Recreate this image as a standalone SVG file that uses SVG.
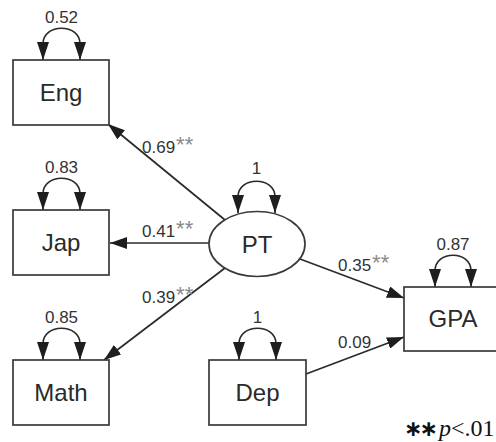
<svg xmlns="http://www.w3.org/2000/svg" width="496" height="442" viewBox="0 0 496 442">
  <defs>
    <marker id="arrow" viewBox="0 0 18 12" refX="18" refY="6" markerWidth="18" markerHeight="12" markerUnits="userSpaceOnUse" orient="auto-start-reverse">
      <path d="M0,0 L18,6 L0,12 z" fill="#1e1e1e"/>
    </marker>
    <marker id="arrow-s" viewBox="0 0 17 12" refX="17" refY="6" markerWidth="17" markerHeight="12" markerUnits="userSpaceOnUse" orient="auto">
      <path d="M0,0 L17,6 L0,12 z" fill="#1e1e1e"/>
    </marker>
  </defs>
  <style>
    .box { fill: #fff; stroke: #3a3a3a; stroke-width: 1.7; }
    .node-label { font-family: "Liberation Sans", Arial, sans-serif; font-size: 24px; fill: #2a2a2a; text-anchor: middle; }
    .coef { font-family: "Liberation Sans", Arial, sans-serif; font-size: 17px; fill: #333; }
    .coef-mid { text-anchor: middle; }
    .sig { font-size: 22px; fill: #8a8a8a; }
    .edge { fill: none; stroke: #2a2a2a; stroke-width: 1.7; marker-end: url(#arrow-s); }
    .loop { fill: none; stroke: #2a2a2a; stroke-width: 1.7; marker-start: url(#arrow); marker-end: url(#arrow); }
    .note { font-family: "Liberation Serif", "Times New Roman", serif; font-size: 24px; fill: #111; }
    .note-star { font-family: "DejaVu Sans", sans-serif; font-weight: bold; font-size: 22px; letter-spacing: -3px; }
  </style>

  <rect width="496" height="442" fill="#fff"/>

  <!-- paths between variables -->
  <g id="connectors">
    <line class="edge" x1="225" y1="220" x2="108" y2="124"/>
    <line class="edge" x1="209" y1="243" x2="110" y2="243"/>
    <line class="edge" x1="225" y1="268" x2="104" y2="360"/>
    <line class="edge" x1="300" y1="259" x2="404" y2="298"/>
    <line class="edge" x1="306" y1="374" x2="404" y2="337"/>

    <!-- variance loops -->
    <path class="loop" d="M43,60 L43,44 C43,23 80,23 80,44 L80,60"/>
    <path class="loop" d="M43,210 L43,194 C43,173 80,173 80,194 L80,210"/>
    <path class="loop" d="M43,360 L43,344 C43,323 80,323 80,344 L80,360"/>
    <path class="loop" d="M239,360 L239,344 C239,323 276,323 276,344 L276,360"/>
    <path class="loop" d="M238,213 L238,197 C238,176 275,176 275,197 L275,213"/>
    <path class="loop" d="M435,287 L435,271 C435,250 471,250 471,271 L471,287"/>

    <!-- path coefficients -->
    <text class="coef" x="142" y="153">0.69<tspan class="sig" dx="1" dy="-1">**</tspan></text>
    <text class="coef" x="142" y="237">0.41<tspan class="sig" dx="1" dy="-1">**</tspan></text>
    <text class="coef" x="142" y="303">0.39<tspan class="sig" dx="1" dy="-1">**</tspan></text>
    <text class="coef" x="338" y="271">0.35<tspan class="sig" dx="1" dy="-1">**</tspan></text>
    <text class="coef" x="338" y="348">0.09</text>

    <!-- variances -->
    <text class="coef coef-mid" x="61.5" y="23">0.52</text>
    <text class="coef coef-mid" x="61.5" y="173">0.83</text>
    <text class="coef coef-mid" x="61.5" y="323">0.85</text>
    <text class="coef coef-mid" x="257.5" y="323">1</text>
    <text class="coef coef-mid" x="256.5" y="174">1</text>
    <text class="coef coef-mid" x="453" y="250">0.87</text>
  </g>

  <g id="node-eng">
    <rect class="box" x="13" y="60" width="96" height="65"/>
    <text class="node-label" x="61" y="101">Eng</text>
  </g>
  <g id="node-jap">
    <rect class="box" x="13" y="210" width="96" height="65"/>
    <text class="node-label" x="61" y="251">Jap</text>
  </g>
  <g id="node-math">
    <rect class="box" x="13" y="360" width="96" height="65"/>
    <text class="node-label" x="61" y="401">Math</text>
  </g>
  <g id="node-pt">
    <ellipse class="box" cx="257" cy="244" rx="48" ry="32.5"/>
    <text class="node-label" x="257" y="252.5">PT</text>
  </g>
  <g id="node-dep">
    <rect class="box" x="209" y="360" width="97" height="65"/>
    <text class="node-label" x="257.5" y="401">Dep</text>
  </g>
  <g id="node-gpa">
    <rect class="box" x="404" y="287" width="98" height="64"/>
    <text class="node-label" x="453" y="327">GPA</text>
  </g>

  <!-- significance note -->
  <text class="note" x="404" y="436"><tspan class="note-star">∗∗</tspan><tspan font-style="italic" dx="4">p</tspan>&lt;.01</text>
</svg>
